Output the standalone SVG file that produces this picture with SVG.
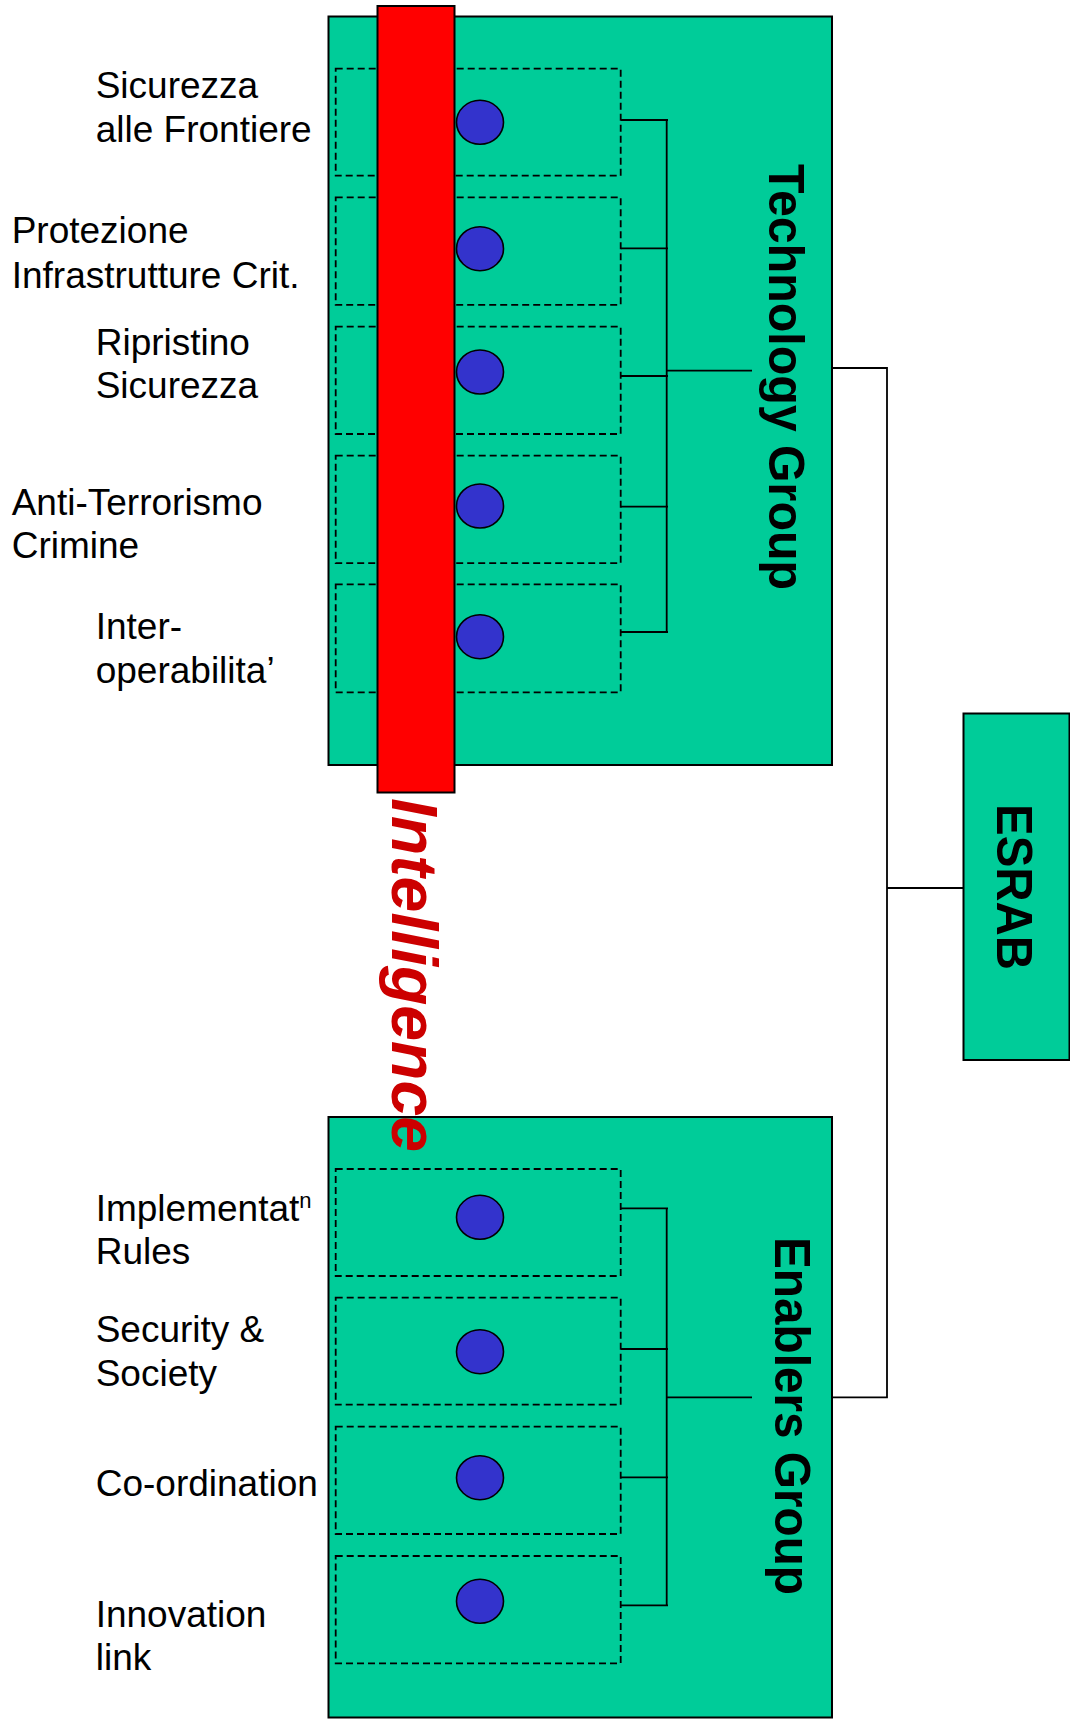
<svg xmlns="http://www.w3.org/2000/svg" width="1070" height="1723" viewBox="0 0 1070 1723">
<style>
.grp{fill:#00CC99;stroke:#000;stroke-width:2}
.box{fill:none;stroke:#000;stroke-width:1.8;stroke-dasharray:7,4}
.dot{fill:#3333CC;stroke:#000;stroke-width:1.6}
.ln{fill:none;stroke:#000;stroke-width:1.8}
.lbl{font-family:"Liberation Sans",Arial,sans-serif;font-size:37px;fill:#000}
.ttl{font-family:"Liberation Sans",Arial,sans-serif;font-size:50px;font-weight:bold;fill:#000}
.intel{font-family:"Liberation Sans",Arial,sans-serif;font-size:64px;font-weight:bold;font-style:italic;fill:#CC0000}
</style>
<rect width="1070" height="1723" fill="#fff"/>

<g id="technology-group">
<rect class="grp" x="328.5" y="16.5" width="503.5" height="748.5"/>
<rect class="box" x="335.7" y="68.7" width="285" height="107"/>
<rect class="box" x="335.7" y="197.3" width="285" height="107.5"/>
<rect class="box" x="335.7" y="326.7" width="285" height="107.3"/>
<rect class="box" x="335.7" y="455.7" width="285" height="107.5"/>
<rect class="box" x="335.7" y="584.3" width="285" height="108"/>
</g>

<g id="intelligence-bar">
<rect x="377.5" y="6" width="77" height="786.5" fill="#FF0000" stroke="#000" stroke-width="2"/>
</g>

<g id="technology-items">
<ellipse class="dot" cx="480" cy="122.3" rx="23.5" ry="22"/>
<ellipse class="dot" cx="480" cy="248.7" rx="23.5" ry="22"/>
<ellipse class="dot" cx="480" cy="372" rx="23.5" ry="22"/>
<ellipse class="dot" cx="480" cy="506" rx="23.5" ry="22"/>
<ellipse class="dot" cx="480" cy="636.7" rx="23.5" ry="22"/>
<text class="ttl" transform="translate(769,164) rotate(90)" textLength="426" lengthAdjust="spacingAndGlyphs">Technology Group</text>
</g>

<g id="enablers-group">
<rect class="grp" x="328.5" y="1117" width="503.5" height="600.5"/>
<rect class="box" x="335.7" y="1169" width="285" height="107"/>
<rect class="box" x="335.7" y="1297.7" width="285" height="107"/>
<rect class="box" x="335.7" y="1426.7" width="285" height="107.3"/>
<rect class="box" x="335.7" y="1556" width="285" height="107.3"/>
<ellipse class="dot" cx="480" cy="1217.3" rx="23.5" ry="22"/>
<ellipse class="dot" cx="480" cy="1351.7" rx="23.5" ry="22"/>
<ellipse class="dot" cx="480" cy="1477.7" rx="23.5" ry="22"/>
<ellipse class="dot" cx="480" cy="1601.3" rx="23.5" ry="22"/>
<text class="ttl" transform="translate(775,1237) rotate(90)" textLength="358" lengthAdjust="spacingAndGlyphs">Enablers Group</text>
</g>

<g id="esrab">
<rect class="grp" x="963.5" y="713.5" width="106" height="346.5"/>
<text class="ttl" transform="translate(997,804) rotate(90)" textLength="166" lengthAdjust="spacingAndGlyphs">ESRAB</text>
</g>

<g id="intelligence-label">
<text class="intel" transform="translate(392,798) rotate(90)" textLength="354" lengthAdjust="spacingAndGlyphs">Intelligence</text>
</g>

<g id="connectors">
<path class="ln" d="M621,120 H668 M621,248.3 H668 M621,376 H668 M621,506.7 H668 M621,632 H668 M666.7,120 V632 M666.7,370.7 H752"/>
<path class="ln" d="M621,1208.3 H668 M621,1349 H668 M621,1477.3 H668 M621,1605.3 H668 M666.7,1208.3 V1605.3 M666.7,1397.3 H752"/>
<path class="ln" d="M832,368 H887 V1397.3 H832 M887,888 H963.5"/>
</g>

<g id="tech-labels">
<text class="lbl" x="95.7" y="97.7">Sicurezza</text>
<text class="lbl" x="95.7" y="141.7">alle Frontiere</text>
<text class="lbl" x="11.7" y="243.3">Protezione</text>
<text class="lbl" x="11.7" y="288.3">Infrastrutture Crit.</text>
<text class="lbl" x="95.7" y="355">Ripristino</text>
<text class="lbl" x="95.7" y="398.3">Sicurezza</text>
<text class="lbl" x="11.7" y="515">Anti-Terrorismo</text>
<text class="lbl" x="11.7" y="558.3">Crimine</text>
<text class="lbl" x="95.7" y="639">Inter-</text>
<text class="lbl" x="95.7" y="683">operabilita’</text>
</g>

<g id="enablers-labels">
<text class="lbl" x="95.7" y="1220.5">Implementat<tspan font-size="22" dy="-13">n</tspan></text>
<text class="lbl" x="95.7" y="1264.3">Rules</text>
<text class="lbl" x="95.7" y="1341.5">Security &amp;</text>
<text class="lbl" x="95.7" y="1385.7">Society</text>
<text class="lbl" x="95.7" y="1495.5">Co-ordination</text>
<text class="lbl" x="95.7" y="1626.8">Innovation</text>
<text class="lbl" x="95.7" y="1670">link</text>
</g>
</svg>
